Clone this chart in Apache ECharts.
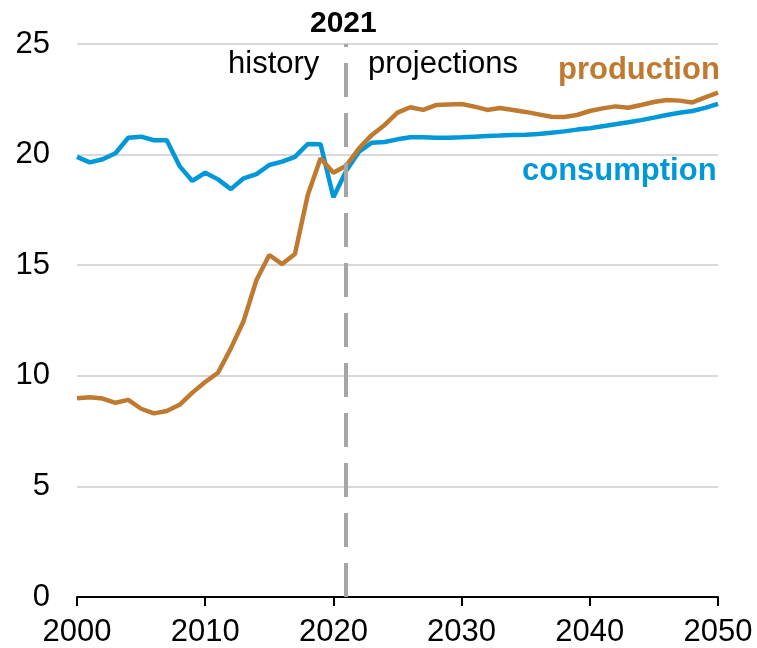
<!DOCTYPE html>
<html>
<head>
<meta charset="utf-8">
<script src="https://cdn.jsdelivr.net/npm/echarts@6/dist/echarts.min.js"></script>
<style>html,body{margin:0;padding:0;background:#fff}#c{width:757px;height:648px}</style>
</head>
<body>
<div id="c"></div>
<script>
const years = [];
for (let y = 2000; y <= 2050; y++) years.push(y);

const production = [
  8.98, 9.03, 8.97, 8.78, 8.91, 8.51, 8.30, 8.41, 8.69, 9.24,
  9.72, 10.14, 11.24, 12.48, 14.33, 15.46, 15.05, 15.51, 18.17, 19.83,
  19.18, 19.50, 20.28, 20.89, 21.34, 21.90, 22.14, 22.02, 22.24, 22.27,
  22.29, 22.17, 22.02, 22.11, 22.02, 21.93, 21.82, 21.71, 21.70, 21.79,
  21.97, 22.09, 22.18, 22.12, 22.24, 22.38, 22.47, 22.44, 22.36, 22.59,
  22.80
];
const consumption = [
  19.90, 19.65, 19.79, 20.06, 20.76, 20.81, 20.65, 20.65, 19.48, 18.81,
  19.18, 18.88, 18.44, 18.93, 19.12, 19.53, 19.68, 19.90, 20.48, 20.47,
  18.07, 19.27, 20.13, 20.54, 20.57, 20.69, 20.78, 20.78, 20.76, 20.76,
  20.78, 20.81, 20.84, 20.86, 20.89, 20.90, 20.93, 20.99, 21.05, 21.13,
  21.19, 21.28, 21.37, 21.46, 21.56, 21.67, 21.79, 21.89, 21.97, 22.11,
  22.29
];
const dividerYear = 2021;
const xTicks = [2000, 2010, 2020, 2030, 2040, 2050];
const yTicks = [0, 5, 10, 15, 20, 25];

const ORANGE = '#bf7a30';
const BLUE = '#0098d8';
const FONT = 'Liberation Sans, Arial, sans-serif';

const chart = echarts.init(document.getElementById('c'), null, {renderer: 'canvas'});
chart.setOption({
  animation: false,
  backgroundColor: '#fff',
  grid: {left: 77, right: 39, top: 44, bottom: 51, containLabel: false},
  xAxis: {
    type: 'value', min: 2000, max: 2050, interval: 10,
    axisLine: {show: true, lineStyle: {color: '#000', width: 2}},
    axisTick: {show: true, inside: false, length: 9, lineStyle: {color: '#000', width: 2}},
    axisLabel: {color: '#000', fontSize: 31, fontFamily: FONT, margin: 20,
      formatter: v => xTicks.includes(v) ? String(v) : ''},
    splitLine: {show: false}
  },
  yAxis: {
    type: 'value', min: 0, max: 25, interval: 5,
    axisLine: {show: false}, axisTick: {show: false},
    axisLabel: {color: '#000', fontSize: 31, fontFamily: FONT, margin: 27,
      formatter: v => yTicks.includes(v) ? String(v) : ''},
    splitLine: {show: true, lineStyle: {color: '#d9d9d9', width: 2}}
  },
  series: [
    {
      name: 'consumption', type: 'line', showSymbol: false, symbol: 'none',
      data: years.map((y, i) => [y, consumption[i]]),
      lineStyle: {color: BLUE, width: 4.5}, z: 3,
      markLine: {
        silent: true, symbol: ['none', 'none'], label: {show: false},
        lineStyle: {color: '#a6a6a6', width: 4, type: [34, 16]},
        data: [{xAxis: dividerYear}]
      }
    },
    {
      name: 'production', type: 'line', showSymbol: false, symbol: 'none',
      data: years.map((y, i) => [y, production[i]]),
      lineStyle: {color: ORANGE, width: 4.5}, z: 4
    }
  ],
  graphic: [
    {type: 'text', left: 310, top: 9, style: {text: '2021', font: 'bold 30px ' + FONT, fill: '#000'}},
    {type: 'text', left: 228, top: 49, style: {text: 'history', font: '31px ' + FONT, fill: '#000'}},
    {type: 'text', left: 368, top: 49, style: {text: 'projections', font: '31px ' + FONT, fill: '#000'}},
    {type: 'text', left: 558, top: 55, style: {text: 'production', font: 'bold 31px ' + FONT, fill: ORANGE}},
    {type: 'text', left: 522, top: 156, style: {text: 'consumption', font: 'bold 31px ' + FONT, fill: BLUE}}
  ]
});
</script>
</body>
</html>
